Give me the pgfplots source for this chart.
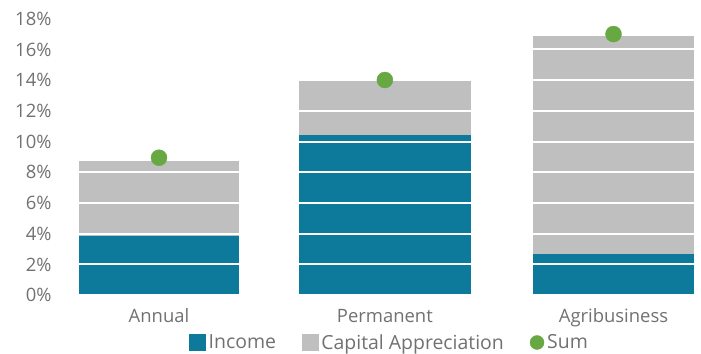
\documentclass[border=0pt]{standalone}
\usepackage{fontspec}
\setmainfont{Open Sans}
\usepackage{pgfplots}
\pgfplotsset{compat=1.18}
\definecolor{incC}{HTML}{0E7A9B}
\definecolor{capC}{HTML}{BEBFBE}
\definecolor{sumC}{HTML}{68A843}
\definecolor{txtC}{HTML}{707173}
\begin{document}
\begin{tikzpicture}
\pgfplotsset{base/.style={
  scale only axis, width=641bp, height=276.5bp,
  at={(55bp,58.8bp)}, anchor=south west,
  xmin=-0.4576, xmax=2.363, ymin=0, ymax=18,
}}
% Bars: total height (income + capital appreciation) in grey, income in teal over it
\begin{axis}[base,
  ybar, bar shift=0pt,
  axis on top,
  axis line style={draw=none},
  tick style={draw=none},
  ytick={0,2,...,18},
  yticklabels={0\%,2\%,4\%,6\%,8\%,10\%,12\%,14\%,16\%,18\%},
  ymajorgrids, major grid style={white, line width=2bp},
  xtick={0,0.994,2}, xticklabels={Annual,Permanent,Agribusiness},
  ticklabel style={font=\fontsize{18.5}{22}\selectfont, text=txtC},
  xticklabel style={yshift=-6bp},
]
% income + capital appreciation (total)
\addplot[fill=capC, draw=none, bar width=0.704] coordinates {(0,8.74)};
\addplot[fill=capC, draw=none, bar width=0.7556] coordinates {(0.994,13.94)};
\addplot[fill=capC, draw=none, bar width=0.7085] coordinates {(2,16.87)};
% income
\addplot[fill=incC, draw=none, bar width=0.704] coordinates {(0,3.87)};
\addplot[fill=incC, draw=none, bar width=0.7556] coordinates {(0.994,10.41)};
\addplot[fill=incC, draw=none, bar width=0.7085] coordinates {(2,2.68)};
\end{axis}
\begin{axis}[base, hide axis,
  legend columns=3,
  legend style={at={(0.522,-0.171)}, anchor=center, draw=none, fill=none,
    font=\fontsize{19.5}{23}\selectfont, text=txtC,
    /tikz/every even column/.append style={column sep=24bp},
    /tikz/every odd column/.append style={column sep=1bp}},
  legend cell align=left,
]
\addlegendimage{legend image code/.code={\fill[incC] (0bp,-8bp) rectangle (16bp,8bp);}}
\addlegendentry{Income}
\addlegendimage{legend image code/.code={\fill[capC] (0bp,-8bp) rectangle (16bp,8bp);}}
\addlegendentry{Capital Appreciation}
\addplot[only marks, mark=*, mark size=8bp, color=sumC,
  legend image code/.code={\fill[sumC] (9bp,0bp) circle (7bp);}]
  coordinates {(0,8.95) (0.994,14.01) (2,17.0)};
\addlegendentry{Sum}
\end{axis}
\pgfresetboundingbox
\path[use as bounding box] (0,0) rectangle (701bp,354bp);
\end{tikzpicture}
\end{document}
